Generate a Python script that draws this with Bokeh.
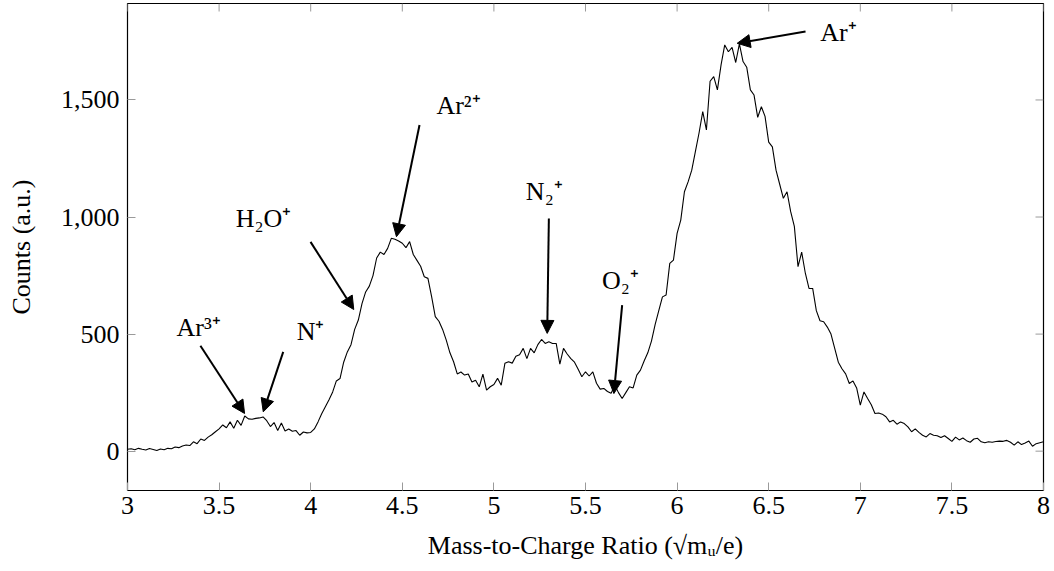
import numpy as np
from bokeh.plotting import figure
from bokeh.models import (Range1d, NumeralTickFormatter, FixedTicker,
                          Arrow, NormalHead, Label)
from bokeh.embed import file_html
from bokeh.resources import INLINE

# ---- data: counts sampled every 0.02 from 3.00 to 8.00 ----
x_start = 3.00
x_step = 0.02
counts = [
    8, 10, 6, 12, 8, 5, 11, 7, 3, 9,                 # 3.00-3.18
    6, 12, 10, 18, 15, 22, 26, 24, 40, 32,           # 3.20-3.38
    52, 46, 60, 70, 83, 95, 112, 100, 125, 98,       # 3.40-3.58
    132, 110, 150, 138, 136, 140, 142, 146, 130, 105,  # 3.60-3.78
    122, 88, 120, 86, 95, 85, 88, 68, 82, 78,        # 3.80-3.98
    80, 95, 125, 160, 190, 220, 253, 300, 310, 380,  # 4.00-4.18
    424, 455, 520, 560, 630, 680, 705, 750, 825, 850,  # 4.20-4.38
    840, 866, 909, 905, 898, 888, 869, 895, 840, 815,  # 4.40-4.58
    790, 745, 738, 660, 575, 555, 520, 474, 420, 382,  # 4.60-4.78
    330, 338, 325, 330, 295, 303, 275, 329, 261, 275,  # 4.80-4.98
    285, 311, 282, 375, 382, 376, 405, 412, 439, 395,  # 5.00-5.18
    439, 420, 455, 477, 460, 467, 460, 460, 372, 439,  # 5.20-5.38
    415, 395, 380, 350, 318, 339, 321, 339, 290, 265,  # 5.40-5.58
    268, 255, 247, 282, 250, 225, 250, 275, 270, 325,  # 5.60-5.78
    346, 385, 420, 470, 540, 600, 659, 667, 802, 816,  # 5.80-5.98
    930, 987, 1108, 1150, 1200, 1280, 1360, 1450, 1372, 1580,  # 6.00-6.18
    1600, 1543, 1650, 1735, 1706, 1725, 1660, 1740, 1664, 1640,  # 6.20-6.38
    1543, 1521, 1426, 1471, 1430, 1320, 1300, 1200, 1140, 1080,  # 6.40-6.58
    1108, 1023, 960, 788, 850, 760, 695, 695, 600, 557,  # 6.60-6.78
    553, 530, 500, 440, 380, 352, 330, 289, 300, 270,  # 6.80-6.98
    197, 253, 225, 198, 161, 163, 158, 147, 125, 132,  # 7.00-7.18
    115, 125, 118, 104, 83, 95, 80, 68, 61, 75,      # 7.20-7.38
    68, 66, 58, 66, 54, 42, 60, 48, 56, 45,          # 7.40-7.58
    38, 52, 55, 40, 36, 40, 38, 41, 43, 42,          # 7.60-7.78
    46, 38, 26, 40, 28, 35, 43, 21, 32, 36,          # 7.80-7.98
    40,                                              # 8.00
]
mz = [round(x_start + x_step * i, 2) for i in range(len(counts))]

x_ticks = [3, 3.5, 4, 4.5, 5, 5.5, 6, 6.5, 7, 7.5, 8]
y_ticks = [0, 500, 1000, 1500]

# annotations: label, label position, arrow start, arrow end (data coords)
peak_labels = ["Ar³⁺", "N⁺", "H₂O⁺", "Ar²⁺", "N₂⁺", "O₂⁺", "Ar⁺"]
label_xy = [(3.388, 530), (3.999, 510), (3.742, 995), (4.807, 1475),
            (5.275, 1110), (5.691, 730), (6.881, 1790)]
arrow_from = [(3.398, 450), (3.850, 424), (3.999, 894), (4.594, 1393),
              (5.300, 994), (5.700, 624), (6.701, 1792)]
arrow_to = [(3.639, 161), (3.741, 168), (4.235, 605), (4.468, 916),
            (5.291, 503), (5.655, 246), (6.328, 1742)]

FONT = "Liberation Serif"
FS = "26px"

X0, X1 = 3, 8
Y0, Y1 = -168, 1912
W, H = 1054, 571
BL, BR, BT, BB = 127, 11, 3, 81

p = figure(width=W, height=H, output_backend="svg", toolbar_location=None,
           x_range=Range1d(X0, X1), y_range=Range1d(Y0, Y1),
           min_border_left=BL, min_border_right=BR, min_border_top=BT,
           min_border_bottom=BB)
p.background_fill_color = "white"
p.border_fill_color = "white"
p.grid.visible = False
p.outline_line_color = "black"
p.outline_line_width = 1.2
p.outline_line_alpha = 1

p.line(mz, counts, line_color="black", line_width=1.1)

TICK_PX = 8
TICK_COLOR = "#9a9a9a"
for ax in (p.xaxis[0], p.yaxis[0]):
    ax.axis_line_color = None
    ax.major_tick_in = TICK_PX
    ax.major_tick_out = 0
    ax.major_tick_line_color = TICK_COLOR
    ax.major_tick_line_width = 1
    ax.minor_tick_line_color = None
    ax.major_label_text_font = FONT
    ax.major_label_text_font_size = FS
    ax.major_label_text_color = "black"
    ax.axis_label_text_font = FONT
    ax.axis_label_text_font_size = FS
    ax.axis_label_text_font_style = "normal"
    ax.axis_label_text_color = "black"

xa = p.xaxis[0]
ya = p.yaxis[0]
xa.ticker = FixedTicker(ticks=x_ticks)
ya.ticker = FixedTicker(ticks=y_ticks)
xa.formatter = NumeralTickFormatter(format="0.[0]")
ya.formatter = NumeralTickFormatter(format="0,0")
xa.axis_label = "Mass-to-Charge Ratio (√mᵤ/e)"
ya.axis_label = "Counts (a.u.)"
xa.major_label_standoff = 6
xa.axis_label_standoff = 14
ya.major_label_standoff = 8
ya.axis_label_standoff = 22

# mirrored ticks on the top and right edges of the frame
frame_w = W - BL - BR
frame_h = H - BT - BB
dy = TICK_PX * (Y1 - Y0) / frame_h
dx = TICK_PX * (X1 - X0) / frame_w
p.segment(x0=x_ticks, y0=[Y1] * len(x_ticks), x1=x_ticks, y1=[Y1 - dy] * len(x_ticks),
          line_color=TICK_COLOR, line_width=1)
p.segment(x0=[X1] * len(y_ticks), y0=y_ticks, x1=[X1 - dx] * len(y_ticks), y1=y_ticks,
          line_color=TICK_COLOR, line_width=1)

for lab, (lx, ly), (ax0, ay0), (ax1, ay1) in zip(peak_labels, label_xy, arrow_from, arrow_to):
    p.add_layout(Arrow(x_start=ax0, y_start=ay0, x_end=ax1, y_end=ay1,
                       line_color="black", line_width=2,
                       end=NormalHead(size=13, fill_color="black", line_color="black",
                                      line_width=1)))
    p.add_layout(Label(x=lx, y=ly, text=lab, text_font=FONT, text_font_size=FS,
                       text_align="center", text_baseline="middle", text_color="black"))

open("out.html", "w").write(file_html(p, INLINE))
